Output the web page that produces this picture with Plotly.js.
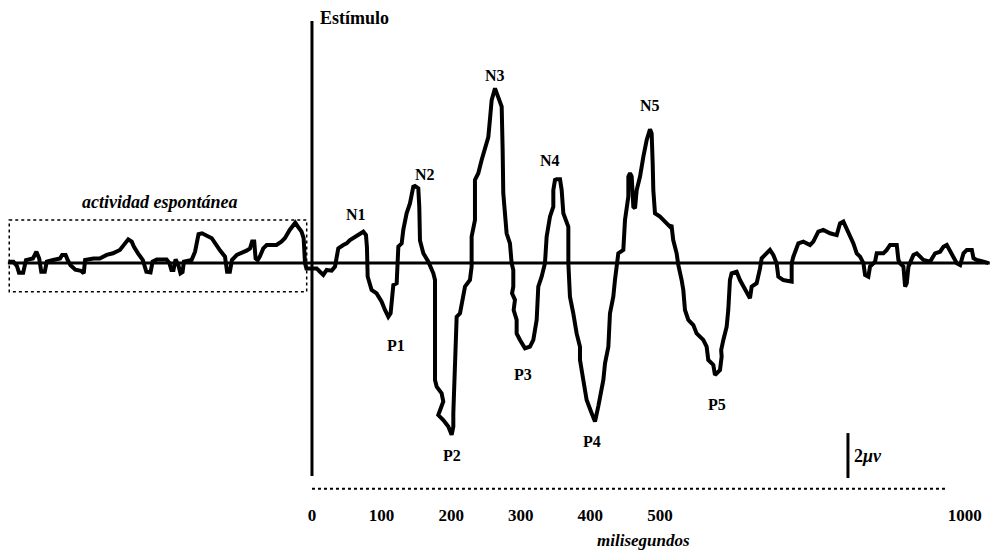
<!DOCTYPE html>
<html><head><meta charset="utf-8">
<script src="https://cdn.plot.ly/plotly-3.0.1.min.js"></script>
<style>html,body{margin:0;padding:0;background:#fff}#chart{width:990px;height:551px}</style>
</head><body><div id="chart"></div>
<script>
// Waveform, [time ms, amplitude µV] (negative = up, EEG convention)
const preStimulus = [[-436,-0.06],[-429,-0.06],[-424,0.13],[-421,0.43],[-415,0.43],[-411,-0.13],[-401,-0.2],[-396,-0.5],[-392,-0.2],[-389,0.39],[-384,0.39],[-381,-0.06],[-372,-0.13],[-362,-0.2],[-359,-0.36],[-354,-0.36],[-351,-0.13],[-347,0.1],[-340,0.3],[-332,0.35],[-328,0.46],[-326,-0.13],[-314,-0.2],[-305,-0.2],[-295,-0.36],[-286,-0.43],[-276,-0.58],[-269,-0.9],[-264,-1.05],[-259,-0.95],[-256,-0.73],[-250,-0.43],[-243,-0.13],[-238,0.39],[-232,0.42],[-229,-0.06],[-223,-0.16],[-209,-0.16],[-205,0.0],[-202,0.31],[-199,0.31],[-196,-0.16],[-192,0.1],[-189,0.46],[-186,0.4],[-184,-0.06],[-173,-0.13],[-168,-0.5],[-163,-1.28],[-158,-1.32],[-152,-1.24],[-144,-1.1],[-132,-0.55],[-125,-0.28],[-122,0.39],[-118,0.39],[-115,-0.13],[-108,-0.36],[-94,-0.55],[-89,-0.65],[-86,-0.95],[-83,-0.95],[-81,-0.2],[-78,-0.13],[-75,-0.28],[-70,-0.65],[-65,-0.8],[-51,-0.8],[-44,-0.95],[-39,-1.1],[-32,-1.47],[-26,-1.69],[-24,-1.79],[-20,-1.61],[-15,-1.39],[-12,-1.1],[-10,0.01],[-8,0.24]];
const earlyResponse = [[0,0.24],[6.7,0.24],[11.5,0.39],[16.3,0.53],[21.1,0.31],[28.3,0.34],[33.1,0.16],[35.4,-0.28],[37.8,-0.65],[45,-0.8],[49.8,-0.87],[54.6,-1.02],[61.8,-1.17],[69,-1.32],[73.8,-1.39],[77.6,-1.24],[79,-0.7],[80,0.6],[83.3,0.9],[85.7,1.2],[92.9,1.35],[100.1,1.72],[104.9,2.09],[109.7,2.39],[113,2.24],[114.5,1.5],[116.9,0.98],[121.7,0.9],[122.6,0.3],[124.1,-0.73],[128.9,-0.87],[131.2,-1.47],[136,-2.21],[140.8,-2.65],[145.6,-3.39],[148,-3.42],[152.8,-3.32],[154.2,-2.5],[155.2,-1.0],[160,-0.43],[167.2,-0.06],[174.4,0.46],[176.8,0.76],[176.8,5.2],[179.2,5.5],[186.3,5.79],[188.7,6.16],[183.9,6.53],[181.5,6.76],[188.7,6.98],[195.9,7.27],[200.7,7.64],[203.1,7.27],[203.1,6.68],[204.3,5.2],[205.5,4.46],[206.7,3.72],[207.9,2.39],[212.7,2.24],[217.5,1.5],[219.9,1.05],[227,0.76],[229.4,0.16],[229.4,-1.17],[234.2,-1.91],[234.2,-3.69],[239,-3.99],[243.8,-4.58],[248.6,-5.17],[253.4,-5.6],[255.8,-6.4],[258.2,-7.24],[263,-7.76],[267.7,-7.39],[272.6,-6.95],[274,-5.02]];
const lateResponse = [[274.9,-3.1],[279.7,-1.32],[284.5,-0.87],[286.9,0.01],[289.3,0.31],[289.3,1.05],[287.5,1.35],[291.7,1.64],[289.8,2.09],[294.1,2.53],[294.1,3.13],[298.9,3.42],[303.7,3.72],[306.1,3.79],[313.3,3.72],[318.1,3.42],[322.9,2.53],[325.2,1.05],[330,0.61],[334.8,0.01],[337.2,-1.17],[342,-2.06],[346.8,-2.5],[346.8,-3.24],[349.2,-3.69],[351.6,-3.72],[356.4,-3.72],[358.8,-3.24],[361.2,-2.21],[368.4,-1.61],[368.4,0.01],[370.7,1.5],[375.5,2.24],[380.3,3.13],[385.1,3.72],[385.1,4.31],[389.9,5.2],[394.7,6.09],[401.9,6.68],[406.7,7.05],[411.5,6.36],[413.9,5.92],[418.7,5.2],[421.1,4.46],[425.9,3.72],[428.2,2.24],[433,1.5],[435.4,0.76],[437.8,0.01],[440.2,-0.43],[447.4,-0.58],[449.8,-1.91],[454.6,-2.95],[454.6,-3.84],[457,-3.99],[459.4,-3.84],[461.8,-2.5],[464.2,-2.43],[466.6,-3.24],[471.4,-3.84],[476.2,-4.73],[481,-5.47],[485.7,-5.94],[488.1,-5.76],[489.6,-4.43],[490.5,-3.24],[492.9,-2.21],[500.1,-2.06],[509.7,-1.76],[514.5,-1.61]];
const tailResponse = [[516.6,-1.69],[519.1,-1.02],[524,-0.43],[526.4,0.09],[531.2,0.76],[533.6,1.2],[536,2.09],[540.8,2.53],[548,2.76],[552.7,3.13],[562.3,3.42],[567.1,3.72],[569.5,4.31],[576.7,4.53],[579.1,4.98],[586.3,4.76],[588.7,4.16],[588,3.87],[591.1,3.42],[595.9,2.83],[598.2,2.09],[600.6,0.76],[603,0.46],[610.2,0.39],[615,0.76],[619.8,1.05],[624.6,1.27],[629.4,1.57],[631.8,1.05],[639,0.9],[643.8,0.24],[646.2,-0.21],[651,-0.36],[658.1,-0.58],[662.9,-0.36],[667.7,0.01],[670.1,0.61],[677.3,0.76],[689.3,0.83],[689.3,0.01],[691.7,-0.28],[698.9,-0.87],[706.1,-0.95],[715.7,-0.8],[720.4,-0.95],[727.6,-1.39],[734.8,-1.47],[744.4,-1.32],[754,-1.24],[758.8,-1.76],[763.6,-1.84],[768.4,-1.54],[773.2,-1.17],[778,-0.87],[782.8,-0.43],[787.6,-0.28],[792.4,0.01],[794.8,0.53],[799.5,0.61],[801.9,0.16],[809.1,-0.06],[811.5,-0.43],[821.1,-0.43],[825.9,-0.58],[830.7,-0.8],[840.3,-0.8],[842.7,-0.13],[845.1,0.01],[849.9,0.16],[852.3,1.05],[854.7,0.9],[857.1,0.16],[864.3,-0.36],[869.1,-0.43],[873.9,-0.28],[878.7,-0.13],[888.3,-0.06],[895.4,-0.43],[902.6,-0.5],[907.4,-0.72],[912.2,-0.8],[917,-0.5],[921.8,-0.28],[926.6,0.01],[931.4,0.09],[936.2,-0.43],[941,-0.58],[948.2,-0.58],[950.6,-0.21],[955.4,-0.13],[965,-0.06],[972.1,0.01]];

const peakNames = ['N1','N2','N3','N4','N5','P1','P2','P3','P4','P5'];
const peakLatencyMs = [73.8,148,263,351.6,485.7,109.7,200.7,306.1,406.7,579.1];
const tickValsMs = [0,100,200,300,400,500,938];
const tickLabels = ['0','100','200','300','400','500','1000'];
const scaleBarUv = 2;

// layout-only helpers (pixel offsets for peak labels)
const labelShift = {N1:[-7,17],N2:[10,12],N3:[0,13],N4:[-7,19],N5:[0,24],P1:[8,-29],P2:[0,-21],P3:[-2,-26],P4:[-3,-20],P5:[2,-29]};

const wave = preStimulus.concat(earlyResponse, lateResponse, tailResponse);
const t = wave.map(p => p[0]);
const v = wave.map(p => p[1]);

const serif = 'Liberation Serif, Times New Roman, serif';
const annotations = peakNames.map((name, i) => {
  const lat = peakLatencyMs[i];
  let best = 0, bd = 1e9;
  t.forEach((tt, k) => { const d = Math.abs(tt - lat); if (d < bd) { bd = d; best = k; } });
  return {x: lat, y: v[best], text: '<b>' + name + '</b>', showarrow: false,
    xshift: labelShift[name][0], yshift: labelShift[name][1],
    font: {family: serif, size: 16, color: '#000'}};
});
annotations.push(
  {x: 8.6, y: -10.87, xanchor: 'left', yanchor: 'middle', text: '<b>Estímulo</b>', showarrow: false, font: {family: serif, size: 18, color: '#000'}},
  {x: -219, y: -2.71, yanchor: 'middle', text: '<b><i>actividad espontánea</i></b>', showarrow: false, font: {family: serif, size: 18, color: '#000'}},
  {x: 476, xref: 'x', y: -0.0798, yref: 'paper', yanchor: 'middle', text: '<b><i>milisegundos</i></b>', showarrow: false, font: {family: serif, size: 17, color: '#000'}},
  {x: 776, y: 7.56 + scaleBarUv / 2, xanchor: 'left', yanchor: 'middle', text: '<b>2</b><b><i>μν</i></b>', showarrow: false, font: {family: serif, size: 18, color: '#000'}}
);

const shapes = [
  {type: 'line', x0: -437, x1: 974, y0: 0, y1: 0, line: {color: '#000', width: 3}},
  {type: 'line', x0: 0, x1: 0, y0: -10.76, y1: 9.47, line: {color: '#000', width: 3}},
  {type: 'line', x0: 0, x1: 914, y0: 10.04, y1: 10.04, line: {color: '#000', width: 2, dash: 'dot'}},
  {type: 'rect', x0: -435, x1: -7.6, y0: -1.91, y1: 1.28, line: {color: '#000', width: 1.5, dash: 'dot'}},
  {type: 'line', x0: 770.2, x1: 770.2, y0: 7.56, y1: 7.56 + scaleBarUv, line: {color: '#000', width: 3}}
];

Plotly.newPlot('chart', [{
  x: t, y: v, type: 'scatter', mode: 'lines',
  line: {color: '#000', width: 4, shape: 'linear'}, hoverinfo: 'skip'
}], {
  width: 990, height: 551,
  margin: {l: 0, r: 0, t: 0, b: 50},
  paper_bgcolor: '#fff', plot_bgcolor: '#fff', showlegend: false,
  xaxis: {range: [-448.3, 974.3], tickvals: tickValsMs, ticktext: tickLabels.map(s => '<b>' + s + '</b>'),
    tickfont: {family: serif, size: 17, color: '#000'}, showgrid: false, zeroline: false, showline: false, ticks: '', ticklabelstandoff: 2},
  yaxis: {range: [10.58, -11.69], visible: false, showgrid: false, zeroline: false},
  shapes: shapes, annotations: annotations
}, {displayModeBar: false, staticPlot: true});
</script></body></html>
